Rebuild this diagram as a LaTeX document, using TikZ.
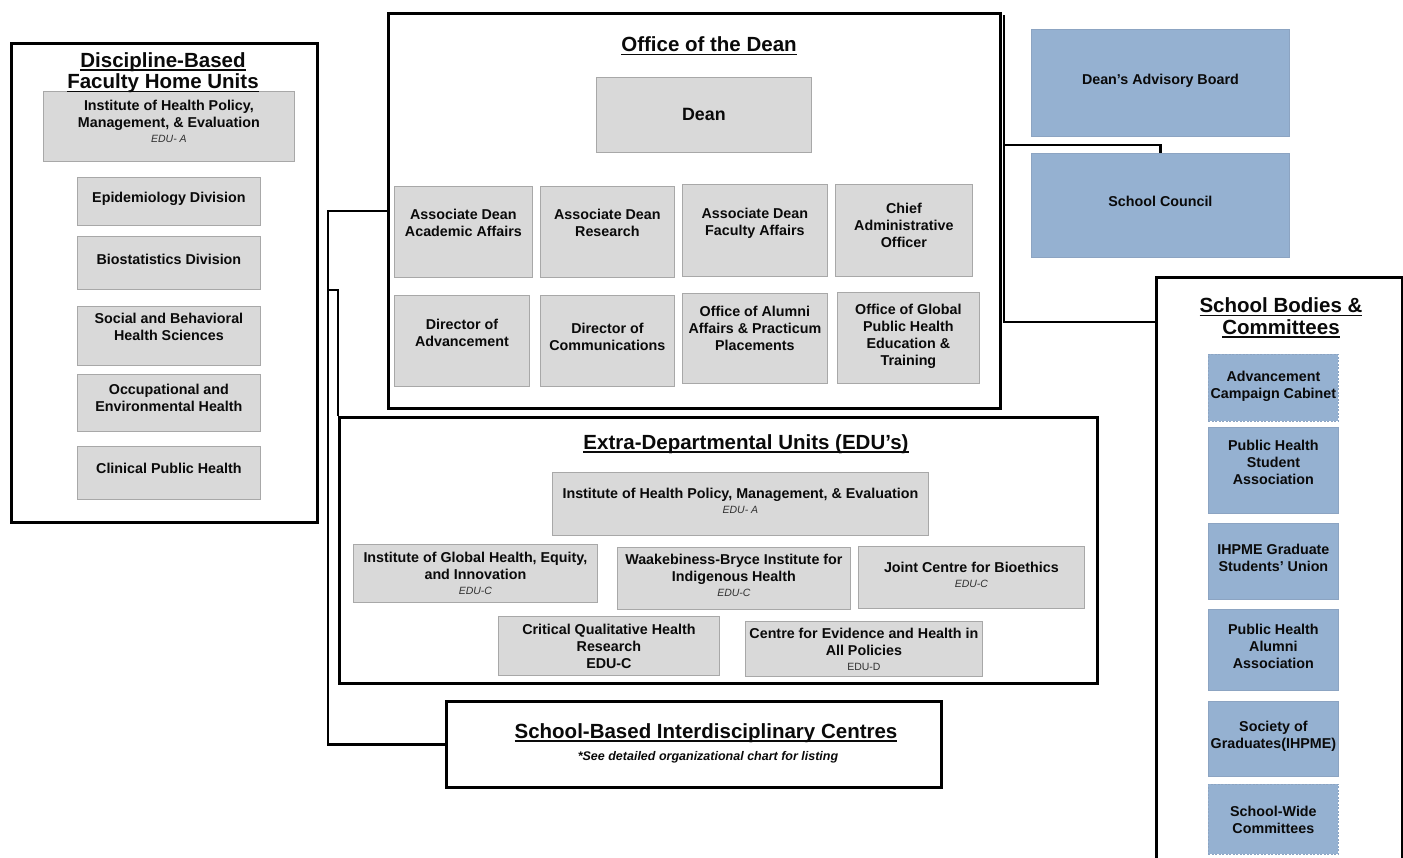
\documentclass[tikz,border=0pt]{standalone}
\usepackage{fontspec}
\setmainfont{Liberation Sans}
\usetikzlibrary{calc}
\definecolor{boxgray}{HTML}{D9D9D9}
\definecolor{boxedge}{HTML}{A8A8A8}
\definecolor{boxblue}{HTML}{95B1D1}
\definecolor{blueedge}{HTML}{8CA4C2}
\definecolor{ink}{HTML}{0A0A0A}
\definecolor{subink}{HTML}{303030}
\tikzset{
 frame/.style={draw=black, line width=2.5pt, inner sep=0pt, anchor=north west},
 conn/.style={draw=black, line width=2.5pt},
 gbox/.style={fill=boxgray, draw=boxedge, line width=0.8pt, inner sep=0pt, anchor=north west},
 bbox/.style={gbox, fill=boxblue, draw=blueedge},
 dbox/.style={bbox, dash pattern=on 2pt off 1.5pt},
 txt/.style={align=center, inner sep=0pt, text=ink, font=\bfseries\fontsize{14.3}{17}\selectfont},
 ttl/.style={align=center, text=ink, font=\bfseries\fontsize{20.5}{21.5}\selectfont, inner sep=0pt},
}
\newcommand{\edutag}[1]{{\mdseries\itshape\fontsize{10.5}{12}\selectfont\color{subink}#1}}
\newcommand{\myul}[1]{\leavevmode\setbox0=\hbox{#1}\rlap{\raisebox{-3.6pt}{\rule{\wd0}{1.5pt}}}\box0}
% box: [style]{name}{x}{y}{w}{h}{dy}{text}
\newcommand{\gb}[8][gbox]{%
 \node[#1, minimum width=#5pt, minimum height=#6pt] (#2) at (#3,#4) {};
 \node[txt] (#2-t) at ($(#2.center)+(0,#7)$) {#8};}
\begin{document}
\begin{tikzpicture}[x=1pt,y=-1pt]
\clip (0,0) rectangle (1403,857);
\fill[white] (0,0) rectangle (1403,857);

% ---------- Discipline-Based ----------
\node[frame, minimum width=306pt, minimum height=479pt] (disc) at (10,42) {};
\gb{dihpme}{43}{91}{251}{70}{-5}{Institute of Health Policy,\\Management, \& Evaluation\\[-2pt]\edutag{EDU- A}}
\node[ttl] (disct) at (163,72.5) {\myul{Discipline-Based}\\\myul{Faculty Home Units}};
\gb{epi}{77}{177}{183}{48}{-3}{Epidemiology Division}
\gb{bio}{77}{236}{183}{53}{-4}{Biostatistics Division}
\gb{soc}{77}{306}{183}{59}{-9}{Social and Behavioral\\Health Sciences}
\gb{occ}{77}{374}{183}{57}{-5}{Occupational and\\Environmental Health}
\gb{clin}{77}{446}{183}{53}{-5}{Clinical Public Health}

% ---------- Office of the Dean ----------
\node[frame, minimum width=612pt, minimum height=395pt] (office) at (387,12) {};
\node[ttl] (officet) at (709,46) {\myul{Office of the Dean}};
\gb{dean}{596}{77}{215}{75}{0}{\fontsize{17.8}{20}\selectfont Dean}
\gb{ada}{394}{186}{138}{91}{-9}{Associate Dean\\Academic Affairs}
\gb{adr}{540}{186}{134}{91}{-9}{Associate Dean\\Research}
\gb{adf}{682}{184}{145}{92}{-7}{Associate Dean\\Faculty Affairs}
\gb{cao}{835}{184}{137}{92}{-5}{Chief\\Administrative\\Officer}
\gb{dira}{394}{295}{135}{91}{-8}{Director of\\Advancement}
\gb{dirc}{540}{295}{134}{91}{-4}{Director of\\Communications}
\gb{alum}{682}{293}{145}{90}{-10}{Office of Alumni\\Affairs \& Practicum\\Placements}
\gb{glob}{837}{292}{142}{91}{-2}{Office of Global\\Public Health\\Education \&\\Training}

% ---------- Right column ----------
\gb[bbox]{dab}{1031}{29}{258}{107}{-2}{Dean’s Advisory Board}
\gb[bbox]{council}{1031}{153}{258}{104}{-4}{School Council}
\node[frame, minimum width=246pt, minimum height=620pt] (bodies) at (1155,276) {};
\node[ttl] (bodiest) at (1281,318) {\myul{School Bodies \&}\\\myul{Committees}};
\gb[dbox]{acc}{1208}{354}{130}{67}{-2}{Advancement\\Campaign Cabinet}
\gb[bbox]{phsa}{1208}{427}{130}{86}{-8}{Public Health\\Student\\Association}
\gb[bbox]{gsu}{1208}{523}{130}{76}{-4}{IHPME Graduate\\Students’ Union}
\gb[bbox]{phaa}{1208}{609}{130}{81}{-4}{Public Health\\Alumni\\Association}
\gb[bbox]{sog}{1208}{701}{130}{75}{-3}{Society of\\Graduates(IHPME)}
\gb[dbox]{swc}{1208}{784}{130}{70}{0}{School-Wide\\Committees}

% ---------- EDUs ----------
\node[frame, minimum width=758pt, minimum height=266pt] (edu) at (338,416) {};
\node[ttl] (edut) at (746,444) {\myul{Extra-Departmental Units (EDU’s)}};
\gb{eihpme}{552}{472}{376}{63}{-3.5}{Institute of Health Policy, Management, \& Evaluation\\[-2pt]\edutag{EDU- A}}
\gb{ighei}{353}{544}{244}{58}{0}{Institute of Global Health, Equity,\\and Innovation\\[-2pt]\edutag{EDU-C}}
\gb{wbi}{617}{547}{233}{62}{-3}{Waakebiness-Bryce Institute for\\Indigenous Health\\[-2pt]\edutag{EDU-C}}
\gb{jcb}{858}{546}{226}{62}{-3}{Joint Centre for Bioethics\\[-2pt]\edutag{EDU-C}}
\gb{cqhr}{498}{616}{221}{59}{0}{Critical Qualitative Health\\Research\\EDU-C}
\gb{cehap}{745}{621}{237}{55}{0}{Centre for Evidence and Health in\\All Policies\\[-2pt]{\mdseries\fontsize{10.5}{12}\selectfont\color{subink}EDU-D}}

% ---------- School-Based Interdisciplinary Centres ----------
\node[frame, minimum width=495pt, minimum height=86pt] (sbic) at (445,700) {};
\node[ttl] (sbict) at (706,733) {\myul{School-Based Interdisciplinary Centres}};
\node[inner sep=0pt, text=ink, font=\bfseries\itshape\fontsize{12.5}{14}\selectfont] (sbics) at (708,757) {*See detailed organizational chart for listing};

% ---------- Connectors ----------
\draw[conn] (office.west) -- ++(-59,0) coordinate (j1) |- (sbic.west);
\draw[conn] ($(j1)+(0,79)$) -| (edu.north west);
\coordinate (rtop) at (1004,15);
\draw[conn] (rtop) |- ($(bodies.north west)+(0,46)$);
\draw[conn] ($(rtop)+(0,130)$) -| (council.north);
\end{tikzpicture}
\end{document}
